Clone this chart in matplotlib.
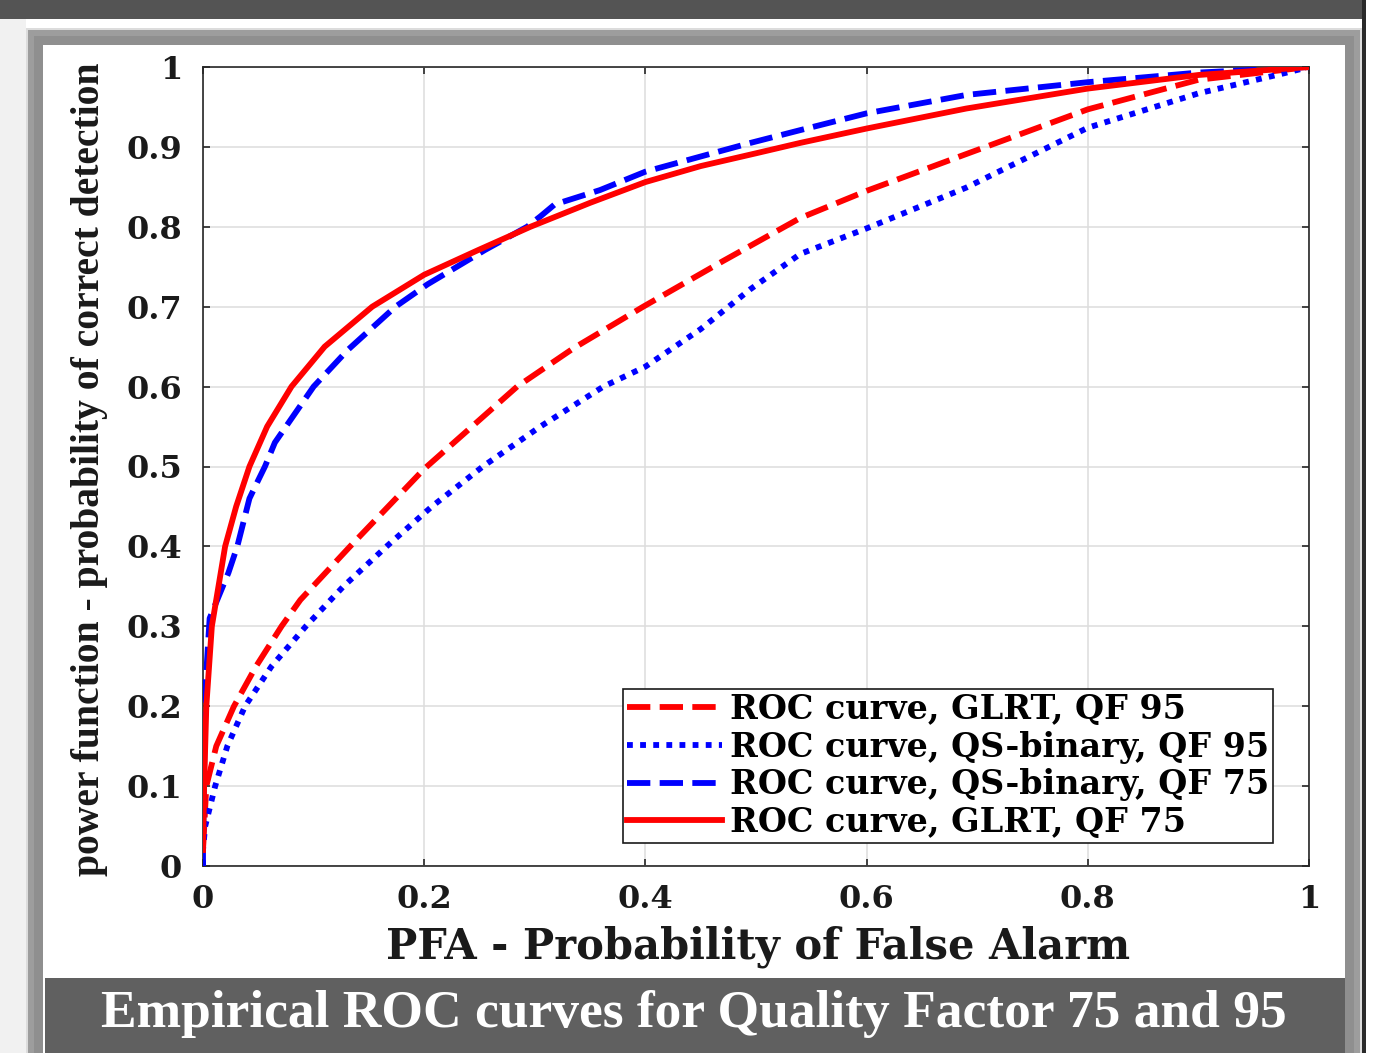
import matplotlib
matplotlib.use("Agg")
import matplotlib.pyplot as plt
from matplotlib.patches import Rectangle

# ---------------- data ----------------
glrt95_x = [0.0, 0.003, 0.012, 0.028, 0.048, 0.071, 0.088, 0.133, 0.2, 0.284, 0.335,
            0.398, 0.47, 0.54, 0.6, 0.69, 0.8, 0.9, 1.0]
glrt95_y = [0.02, 0.10, 0.15, 0.20, 0.25, 0.30, 0.333, 0.40, 0.497, 0.60, 0.648,
            0.70, 0.757, 0.811, 0.845, 0.891, 0.947, 0.984, 1.0]

qs95_x = [0.0, 0.0, 0.002, 0.011, 0.022, 0.038, 0.062, 0.093, 0.127, 0.166, 0.207, 0.253,
          0.305, 0.362, 0.40, 0.45, 0.495, 0.54, 0.60, 0.69, 0.80, 0.90, 0.977, 1.0]
qs95_y = [0.0, 0.02, 0.05, 0.10, 0.15, 0.20, 0.25, 0.30, 0.35, 0.40, 0.45, 0.50,
          0.55, 0.60, 0.625, 0.672, 0.722, 0.766, 0.798, 0.849, 0.924, 0.967, 0.992, 1.0]

qs75_x = [0.0, 0.0, 0.002, 0.006, 0.023, 0.031, 0.042, 0.05, 0.056, 0.065, 0.10, 0.131,
          0.174, 0.203, 0.255, 0.293, 0.305, 0.318, 0.359, 0.40, 0.45, 0.495, 0.54, 0.60,
          0.69, 0.80, 0.90, 1.0]
qs75_y = [0.0, 0.02, 0.22, 0.31, 0.367, 0.40, 0.46, 0.483, 0.50, 0.53, 0.60, 0.646,
          0.70, 0.728, 0.771, 0.80, 0.813, 0.828, 0.846, 0.869, 0.888, 0.905, 0.921, 0.942,
          0.965, 0.981, 0.993, 1.0]

glrt75_x = [0.0, 0.001, 0.003, 0.008, 0.02, 0.03, 0.042, 0.058, 0.08, 0.11, 0.153, 0.2,
            0.249, 0.296, 0.35, 0.40, 0.45, 0.50, 0.54, 0.60, 0.69, 0.80, 0.90, 1.0]
glrt75_y = [0.02, 0.10, 0.20, 0.30, 0.40, 0.45, 0.50, 0.55, 0.60, 0.65, 0.70, 0.74,
            0.771, 0.80, 0.83, 0.856, 0.876, 0.892, 0.905, 0.923, 0.948, 0.973, 0.99, 1.0]

series_labels = ["ROC curve, GLRT, QF 95", "ROC curve, QS-binary, QF 95",
                 "ROC curve, QS-binary, QF 75", "ROC curve, GLRT, QF 75"]
x_ticks = [0, 0.2, 0.4, 0.6, 0.8, 1.0]
x_tick_labels = ["0", "0.2", "0.4", "0.6", "0.8", "1"]
y_ticks = [0, 0.1, 0.2, 0.3, 0.4, 0.5, 0.6, 0.7, 0.8, 0.9, 1.0]
y_tick_labels = ["0", "0.1", "0.2", "0.3", "0.4", "0.5", "0.6", "0.7", "0.8", "0.9", "1"]
x_label = "PFA - Probability of False Alarm"
y_label = "power function - probability of correct detection"
caption = "Empirical ROC curves for Quality Factor 75 and 95"

# ---------------- figure ----------------
W, H = 1382, 1053
fig = plt.figure(figsize=(W / 100, H / 100), dpi=100)
fig.patch.set_facecolor("white")


def px_rect(x0, y0, x1, y1, color, z=0):
    """rectangle given in pixel coordinates (origin top-left)"""
    fig.patches.append(Rectangle((x0 / W, 1 - y1 / H), (x1 - x0) / W, (y1 - y0) / H,
                                 transform=fig.transFigure, facecolor=color,
                                 edgecolor="none", zorder=z))


px_rect(0, 0, 1363, 19, "#545454")          # top dark band
px_rect(0, 19, 26, H, "#f1f1f1")            # left light strip
px_rect(26, 28, 1362, H, "#dcdcdc")
px_rect(28, 30, 1360, H, "#9d9d9d")         # gray frame
px_rect(34, 36, 1354, H, "#8f8f8f")
px_rect(43, 45, 1345, H, "white")           # inner white
px_rect(45, 978, 1345, H, "#606060")        # caption band
px_rect(1362, 0, 1366, H, "#2a2a2a")        # right dark line

ax = fig.add_axes([203 / W, 1 - 866 / H, (1309 - 203) / W, (866 - 67) / H])
ax.set_zorder(2)

dash = (0, (4, 1.6))
dot = (0, (1, 1.25))
lw = 4.2
ax.plot(glrt95_x, glrt95_y, color="#ff0000", lw=lw, ls=dash, label=series_labels[0], zorder=3)
ax.plot(qs95_x, qs95_y, color="#0000ff", lw=lw, ls=dot, label=series_labels[1], zorder=3)
ax.plot(qs75_x, qs75_y, color="#0000ff", lw=lw, ls=dash, label=series_labels[2], zorder=3)
ax.plot(glrt75_x, glrt75_y, color="#ff0000", lw=lw, ls="-", label=series_labels[3], zorder=4)

ax.set_xlim(0, 1)
ax.set_ylim(0, 1)
ax.set_xticks(x_ticks)
ax.set_xticklabels(x_tick_labels)
ax.set_yticks(y_ticks)
ax.set_yticklabels(y_tick_labels)
ax.grid(True, color="#dddddd", lw=1.1)
ax.set_axisbelow(True)
for s in ax.spines.values():
    s.set_color("#262626")
    s.set_linewidth(1.2)
ax.tick_params(direction="in", length=5, width=1.2, top=True, right=True, colors="#262626")
for lab in ax.get_xticklabels() + ax.get_yticklabels():
    lab.set_fontfamily("DejaVu Serif")
    lab.set_fontweight("bold")
    lab.set_fontsize(23)
    lab.set_color("#1a1a1a")
ax.tick_params(axis="x", pad=13, labelcolor="#1a1a1a")
ax.tick_params(axis="y", pad=15, labelcolor="#1a1a1a")

ax.set_xlabel(x_label, family="DejaVu Serif", weight="bold", size=30, color="#1a1a1a")
ax.xaxis.set_label_coords((758 - 203) / 1106, (866 - 926) / 799)
ax.set_ylabel(y_label, family="Liberation Serif", weight="bold", size=28.5, color="#1a1a1a")
ax.yaxis.set_label_coords((108 - 203) / 1106, 0.497)

leg = ax.legend(loc="lower right", bbox_to_anchor=((1273 - 203) / 1106, (866 - 843) / 799),
                borderaxespad=0, fancybox=False, framealpha=1, edgecolor="#1a1a1a",
                prop=dict(family="DejaVu Serif", weight="bold", size=24),
                handlelength=2.85, handletextpad=0.22, labelspacing=0.14, borderpad=0.12)
leg.get_frame().set_linewidth(1.2)
leg.set_zorder(10)

fig.text(694 / W, 1 - 1014 / H, caption, ha="center", va="center", color="white",
         family="Liberation Serif", weight="bold", size=38.5)

fig.savefig("out.png", dpi=100)
